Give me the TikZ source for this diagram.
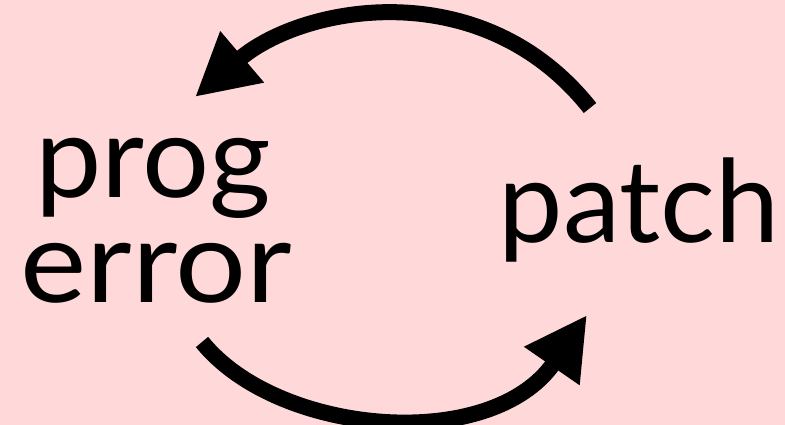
\documentclass[tikz,border=0pt]{standalone}
\usepackage{fontspec}
\setmainfont{Lato}
\usetikzlibrary{arrows.meta}
\definecolor{bgpink}{RGB}{255,217,217}
\tikzset{
  word/.style={inner sep=0pt, anchor=base, font=\fontsize{115}{120}\selectfont, text=black},
  cyclearrow/.style={line width=16pt, draw=black, -{Triangle[length=62pt,width=63pt]}}
}
\begin{document}
\begin{tikzpicture}[x=1pt,y=1pt]
\fill[bgpink] (0,0) rectangle (785,425);
\useasboundingbox (0,0) rectangle (785,425);
\node[word] (prog) at (153,227) {\scalebox{1.03}[1]{prog}};
\node[word] (error) at (156,122) {\scalebox{1.09}[1]{error}};
\node[word] (patch) at (639,182) {patch};
\coordinate (topstart) at (590,317);
\coordinate (toptip) at (195,328);
\coordinate (botstart) at (202,83);
\coordinate (bottip) at (587,110);
\draw[cyclearrow] (topstart) .. controls (482,453) and (303,420) .. (toptip);
\draw[cyclearrow] (botstart) .. controls (278,-11) and (491,-29) .. (bottip);
\end{tikzpicture}
\end{document}
